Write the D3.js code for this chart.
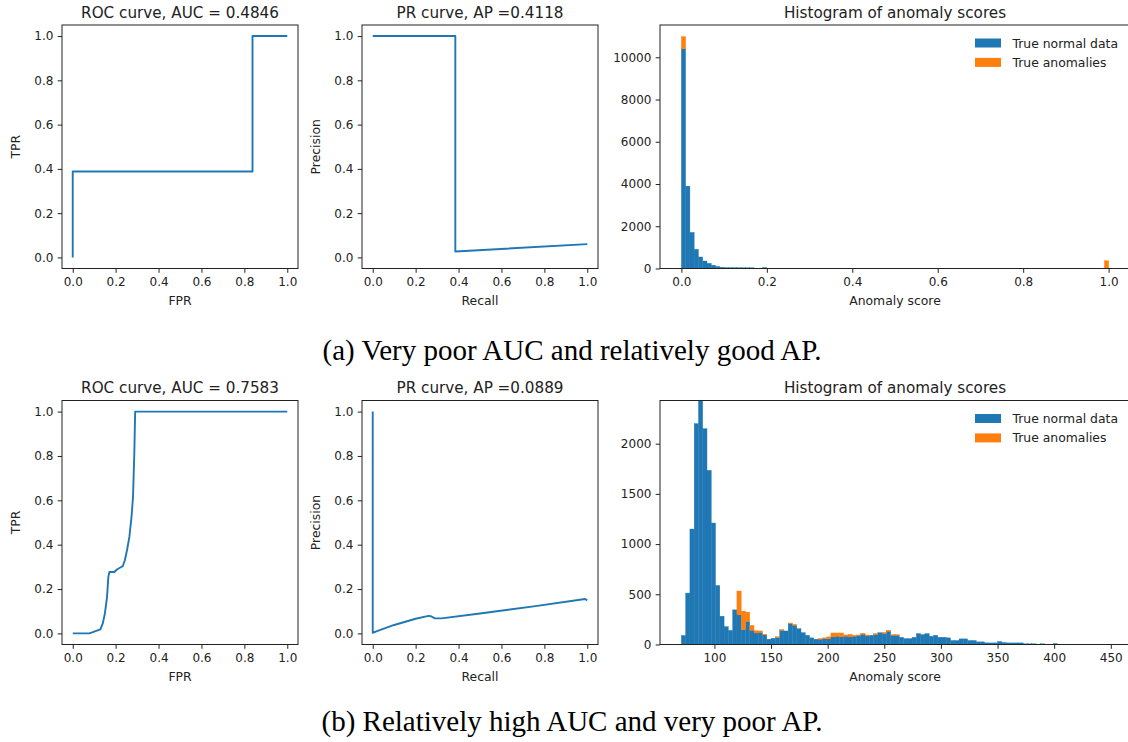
<!DOCTYPE html>
<html>
<head>
<meta charset="utf-8">
<script src="https://cdn.jsdelivr.net/npm/d3@7"></script>
<style>
  html, body { margin: 0; padding: 0; background: #fff; }
  svg { display: block; }
</style>
</head>
<body>
<svg id="fig" width="1128" height="742"></svg>
<script>
// ---------------- data ----------------
// (a) ROC / PR curves
const rocA_fpr = [0, 0, 0.838, 0.838, 1];
const rocA_tpr = [0, 0.388, 0.388, 1, 1];
const prA_recall = [0, 0.385, 0.385, 1];
const prA_precision = [1, 1, 0.027, 0.060];

// (b) ROC / PR curves
const rocB_fpr = [0, 0.078, 0.1, 0.129, 0.14, 0.15, 0.16, 0.166, 0.171, 0.194, 0.206, 0.222, 0.233, 0.243, 0.253, 0.264, 0.274, 0.281, 0.287, 0.291, 1];
const rocB_tpr = [0, 0, 0.008, 0.018, 0.045, 0.09, 0.165, 0.255, 0.277, 0.277, 0.288, 0.297, 0.303, 0.33, 0.375, 0.435, 0.525, 0.615, 0.81, 1, 1];
const prB_recall = [0, 0, 0.02, 0.1, 0.2, 0.26, 0.27, 0.29, 0.32, 0.5, 0.75, 0.99, 1];
const prB_precision = [1, 0.003, 0.01, 0.038, 0.066, 0.079, 0.078, 0.068, 0.068, 0.09, 0.122, 0.155, 0.149];

// (a) histogram: 100 bins over the score range
const histA_range = [0, 1];
const histA_normal = [
  10400, 3900, 1710, 910, 545, 355, 245, 158, 100, 60,
  45, 42, 40, 40, 38, 36, 35, 0, 0, 50,
  0, 0, 0, 0, 0, 0, 0, 0, 0, 0,
  0, 0, 0, 0, 0, 0, 0, 0, 0, 0,
  0, 0, 0, 0, 0, 0, 0, 0, 0, 0,
  0, 0, 0, 0, 0, 0, 0, 0, 0, 0,
  0, 0, 0, 0, 0, 0, 0, 0, 0, 0,
  0, 0, 0, 0, 0, 0, 0, 0, 0, 0,
  0, 0, 0, 0, 0, 0, 0, 0, 0, 0,
  0, 0, 0, 0, 0, 0, 0, 0, 0, 0
];
const histA_anom = [
  580, 0, 0, 0, 0, 0, 0, 0, 0, 0,
  0, 0, 0, 0, 0, 0, 0, 0, 0, 0,
  0, 0, 0, 0, 0, 0, 0, 0, 0, 0,
  0, 0, 0, 0, 0, 0, 0, 0, 0, 0,
  0, 0, 0, 0, 0, 0, 0, 0, 0, 0,
  0, 0, 0, 0, 0, 0, 0, 0, 0, 0,
  0, 0, 0, 0, 0, 0, 0, 0, 0, 0,
  0, 0, 0, 0, 0, 0, 0, 0, 0, 0,
  0, 0, 0, 0, 0, 0, 0, 0, 0, 0,
  0, 0, 0, 0, 0, 0, 0, 0, 0, 365
];

// (b) histogram: 100 bins over the score range
const histB_range = [70.8, 448.1];
const histB_yMax = 2430;
const histB_normal = [
  90, 512, 1150, 2200, 2480, 2150, 1735, 1210, 588, 282,
  178, 140, 345, 296, 148, 230, 142, 115, 120, 95,
  53, 62, 69, 141, 135, 207, 191, 158, 118, 92,
  66, 53, 53, 59, 56, 76, 82, 76, 82, 76,
  82, 89, 102, 85, 92, 99, 118, 109, 132, 92,
  92, 72, 59, 59, 72, 109, 99, 109, 82, 92,
  72, 72, 66, 40, 40, 56, 56, 40, 40, 26,
  26, 16, 16, 16, 30, 20, 16, 16, 16, 16,
  7, 7, 7, 0, 7, 0, 0, 10, 0, 0,
  0, 0, 0, 0, 0, 0, 0, 0, 0, 0
];
const histB_anom = [
  0, 0, 0, 0, 0, 0, 0, 0, 0, 0,
  0, 0, 0, 237, 185, 93, 49, 23, 15, 7,
  0, 0, 10, 8, 0, 7, 10, 0, 0, 0,
  0, 0, 6, 7, 20, 39, 33, 39, 13, 26,
  10, 6, 10, 10, 0, 10, 0, 12, 10, 7,
  7, 0, 0, 0, 0, 0, 0, 0, 0, 0,
  0, 0, 0, 0, 0, 0, 0, 0, 0, 0,
  0, 0, 0, 0, 0, 0, 0, 0, 0, 0,
  0, 0, 0, 0, 0, 0, 0, 0, 0, 0,
  0, 0, 0, 0, 0, 0, 0, 0, 0, 0
];

// tick values and text
const unitTicks = [0, 0.2, 0.4, 0.6, 0.8, 1.0];
const histA_xTicks = [0, 0.2, 0.4, 0.6, 0.8, 1.0];
const histA_yTicks = [0, 2000, 4000, 6000, 8000, 10000];
const histB_xTicks = [100, 150, 200, 250, 300, 350, 400, 450];
const histB_yTicks = [0, 500, 1000, 1500, 2000];
const legendLabels = ["True normal data", "True anomalies"];
const titlesA = ["ROC curve, AUC = 0.4846", "PR curve, AP =0.4118", "Histogram of anomaly scores"];
const titlesB = ["ROC curve, AUC = 0.7583", "PR curve, AP =0.0889", "Histogram of anomaly scores"];
const captionA = "(a) Very poor AUC and relatively good AP.";
const captionB = "(b) Relatively high AUC and very poor AP.";

// ---------------- drawing ----------------
const BLUE = "#1f77b4", ORANGE = "#ff7f0e", INK = "#222";
const FONT = "DejaVu Sans, sans-serif";
const svg = d3.select("#fig");

const rows = [{ t: 25, b: 268.5 }, { t: 400.5, b: 644.5 }];
const cols = [{ l: 62, r: 298 }, { l: 362, r: 598 }, { l: 660, r: 1130 }];
let clipId = 0;

function frame(g, box, x, y, xTicks, yTicks, xFmt, yFmt) {
  const ax = g.append("g").attr("transform", `translate(0,${box.b})`)
    .call(d3.axisBottom(x).tickValues(xTicks).tickFormat(xFmt)
      .tickSize(4.3).tickPadding(4.3).tickSizeOuter(0));
  const ay = g.append("g").attr("transform", `translate(${box.l},0)`)
    .call(d3.axisLeft(y).tickValues(yTicks).tickFormat(yFmt)
      .tickSize(4.3).tickPadding(4.3).tickSizeOuter(0));
  [ax, ay].forEach(a => {
    a.select(".domain").remove();
    a.selectAll("line").attr("stroke", INK).attr("stroke-width", 1);
    a.selectAll("text").attr("fill", INK).style("font-family", FONT).style("font-size", "12px");
  });
  g.append("rect")
    .attr("x", box.l).attr("y", box.t)
    .attr("width", box.r - box.l).attr("height", box.b - box.t)
    .attr("fill", "none").attr("stroke", INK).attr("stroke-width", 1);
}

function labels(g, box, title, xLabel, yLabel) {
  const cx = (box.l + box.r) / 2;
  g.append("text").attr("x", cx).attr("y", box.t - 7.4)
    .attr("text-anchor", "middle").attr("fill", INK)
    .style("font-family", FONT).style("font-size", "15.2px").text(title);
  if (xLabel) g.append("text").attr("x", cx).attr("y", box.b + 36)
    .attr("text-anchor", "middle").attr("fill", INK)
    .style("font-family", FONT).style("font-size", "12.4px").text(xLabel);
  if (yLabel) g.append("text")
    .attr("transform", `translate(${box.l - 42},${(box.t + box.b) / 2}) rotate(-90)`)
    .attr("text-anchor", "middle").attr("fill", INK)
    .style("font-family", FONT).style("font-size", "12.4px").text(yLabel);
}

function curvePanel(box, xs, ys, title, xLabel, yLabel) {
  const g = svg.append("g");
  const x = d3.scaleLinear().domain([-0.05, 1.05]).range([box.l, box.r]);
  const y = d3.scaleLinear().domain([-0.05, 1.05]).range([box.b, box.t]);
  const pts = xs.map((v, i) => [v, ys[i]]);
  g.append("path").datum(pts)
    .attr("d", d3.line().x(d => x(d[0])).y(d => y(d[1])))
    .attr("fill", "none").attr("stroke", BLUE).attr("stroke-width", 1.9)
    .attr("stroke-linejoin", "round").attr("stroke-linecap", "butt");
  frame(g, box, x, y, unitTicks, unitTicks, d3.format(".1f"), d3.format(".1f"));
  labels(g, box, title, xLabel, yLabel);
}

function histPanel(box, range, normal, anom, xTicks, yTicks, xFmt, yMax, title) {
  const g = svg.append("g");
  const n = normal.length, span = range[1] - range[0], bw = span / n;
  const x = d3.scaleLinear().domain([range[0] - 0.05 * span, range[1] + 0.05 * span]).range([box.l, box.r]);
  const rowsData = normal.map((v, i) => ({ i, normal: v, anom: anom[i] }));
  const top = yMax != null ? yMax : d3.max(rowsData, d => d.normal + d.anom) * 1.05;
  const y = d3.scaleLinear().domain([0, top]).range([box.b, box.t]);
  const stacked = d3.stack().keys(["normal", "anom"])(rowsData);

  const id = "clip" + (clipId++);
  g.append("clipPath").attr("id", id).append("rect")
    .attr("x", box.l).attr("y", box.t).attr("width", box.r - box.l).attr("height", box.b - box.t);
  const plot = g.append("g").attr("clip-path", `url(#${id})`);
  const colors = [BLUE, ORANGE];
  stacked.forEach((layer, k) => {
    plot.append("g").attr("fill", colors[k])
      .attr("stroke", colors[k]).attr("stroke-width", 0.35)
      .selectAll("rect")
      .data(layer.filter(d => d[1] > d[0]))
      .join("rect")
      .attr("x", d => x(range[0] + d.data.i * bw))
      .attr("width", d => x(range[0] + (d.data.i + 1) * bw) - x(range[0] + d.data.i * bw))
      .attr("y", d => y(d[1]))
      .attr("height", d => y(d[0]) - y(d[1]));
  });

  frame(g, box, x, y, xTicks, yTicks, xFmt, d3.format("d"));
  labels(g, box, title, "Anomaly score", null);

  // legend
  const lg = g.append("g");
  legendLabels.forEach((t, k) => {
    const yy = box.t + 13.5 + k * 19.4;
    lg.append("rect").attr("x", box.l + 315).attr("y", yy).attr("width", 26).attr("height", 9)
      .attr("fill", colors[k]);
    lg.append("text").attr("x", box.l + 352.5).attr("y", yy + 9)
      .attr("fill", INK).style("font-family", FONT).style("font-size", "12.4px").text(t);
  });
}

function caption(text, cx, baseline) {
  svg.append("text").attr("x", cx).attr("y", baseline)
    .attr("text-anchor", "middle").attr("fill", "#000")
    .style("font-family", "Liberation Serif, serif").style("font-size", "29px").text(text);
}

// row (a)
curvePanel({ ...cols[0], ...rows[0] }, rocA_fpr, rocA_tpr, titlesA[0], "FPR", "TPR");
curvePanel({ ...cols[1], ...rows[0] }, prA_recall, prA_precision, titlesA[1], "Recall", "Precision");
histPanel({ ...cols[2], ...rows[0] }, histA_range, histA_normal, histA_anom,
  histA_xTicks, histA_yTicks, d3.format(".1f"), null, titlesA[2]);
caption(captionA, 572, 360);

// row (b)
curvePanel({ ...cols[0], ...rows[1] }, rocB_fpr, rocB_tpr, titlesB[0], "FPR", "TPR");
curvePanel({ ...cols[1], ...rows[1] }, prB_recall, prB_precision, titlesB[1], "Recall", "Precision");
histPanel({ ...cols[2], ...rows[1] }, histB_range, histB_normal, histB_anom,
  histB_xTicks, histB_yTicks, d3.format("d"), histB_yMax, titlesB[2]);
caption(captionB, 572, 731);
</script>
</body>
</html>
